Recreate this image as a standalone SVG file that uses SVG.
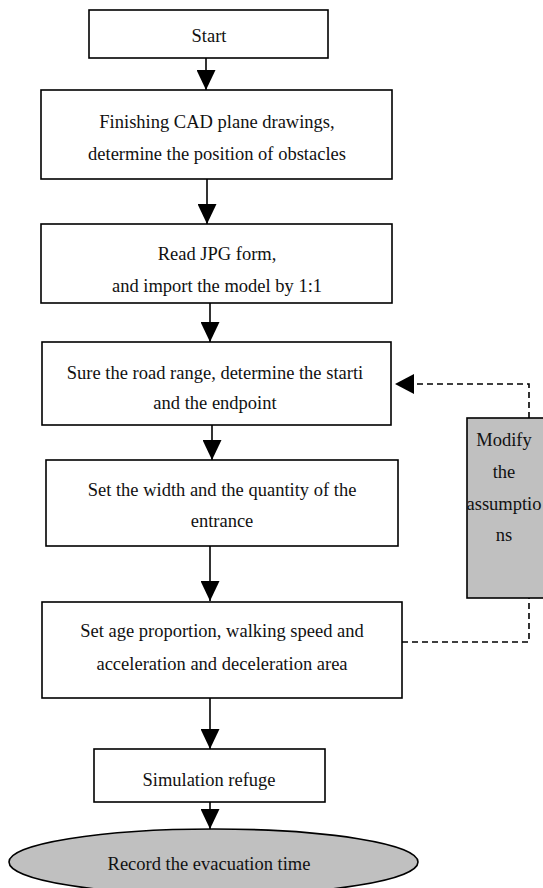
<svg xmlns="http://www.w3.org/2000/svg" width="543" height="888" viewBox="0 0 543 888">
<style>
.box{fill:#fff;stroke:#000;stroke-width:1.6}
.gray{fill:#c0c0c0;stroke:#000;stroke-width:1.6}
.t{font-family:"Liberation Serif","Times New Roman",serif;font-size:18.5px;fill:#111;text-anchor:middle}
.ln{stroke:#000;stroke-width:1.6;fill:none}
.dash{stroke:#000;stroke-width:1.6;fill:none;stroke-dasharray:6 4}
</style>
<defs>
<marker id="ah" markerUnits="userSpaceOnUse" markerWidth="22" markerHeight="19" refX="20" refY="9.5" orient="auto">
<polygon points="0,0 20,9.5 0,19" fill="#000"/>
</marker>
</defs>
<rect width="543" height="888" fill="#fff"/>
<g id="connectors">
<line class="ln" x1="206" y1="58" x2="206" y2="90" marker-end="url(#ah)"/>
<line class="ln" x1="207" y1="179" x2="207" y2="224" marker-end="url(#ah)"/>
<line class="ln" x1="210" y1="303" x2="210" y2="342" marker-end="url(#ah)"/>
<line class="ln" x1="212" y1="425" x2="212" y2="460" marker-end="url(#ah)"/>
<line class="ln" x1="210" y1="546" x2="210" y2="601" marker-end="url(#ah)"/>
<line class="ln" x1="210" y1="698" x2="210" y2="749" marker-end="url(#ah)"/>
<line class="ln" x1="210" y1="802" x2="210" y2="829" marker-end="url(#ah)"/>
<polyline class="dash" points="402,642 529,642 529,598"/>
<polyline class="dash" points="529,418 529,384 397,384"/>
<polygon points="395,384 414,374 414,394" fill="#000"/>
</g>
<g id="start">
<rect class="box" x="89" y="10" width="239" height="48"/>
<text class="t" x="209" y="42">Start</text>
</g>
<g id="cad">
<rect class="box" x="41" y="90" width="351" height="89"/>
<text class="t" x="217" y="128">Finishing CAD plane drawings,</text>
<text class="t" x="217" y="160">determine the position of obstacles</text>
</g>
<g id="jpg">
<rect class="box" x="41" y="224" width="351" height="79"/>
<text class="t" x="217" y="260">Read JPG form,</text>
<text class="t" x="217" y="292">and import the model by 1:1</text>
</g>
<g id="road">
<rect class="box" x="42" y="342" width="349" height="83"/>
<text class="t" x="215" y="379">Sure the road range, determine the starti</text>
<text class="t" x="215" y="409">and the endpoint</text>
</g>
<g id="entrance">
<rect class="box" x="46" y="460" width="352" height="86"/>
<text class="t" x="222" y="496">Set the width and the quantity of the</text>
<text class="t" x="222" y="527">entrance</text>
</g>
<g id="age">
<rect class="box" x="42" y="602" width="360" height="96"/>
<text class="t" x="222" y="637">Set age proportion, walking speed and</text>
<text class="t" x="222" y="670">acceleration and deceleration area</text>
</g>
<g id="sim">
<rect class="box" x="94" y="749" width="231" height="53"/>
<text class="t" x="209" y="786">Simulation refuge</text>
</g>
<g id="record">
<ellipse class="gray" cx="213.5" cy="862" rx="204.5" ry="33"/>
<text class="t" x="209" y="870">Record the evacuation time</text>
</g>
<g id="modify">
<rect class="gray" x="467" y="418" width="90" height="180"/>
<text class="t" x="504" y="446">Modify</text>
<text class="t" x="504" y="478">the</text>
<text class="t" x="504" y="510">assumptio</text>
<text class="t" x="504" y="541">ns</text>
</g>
</svg>
